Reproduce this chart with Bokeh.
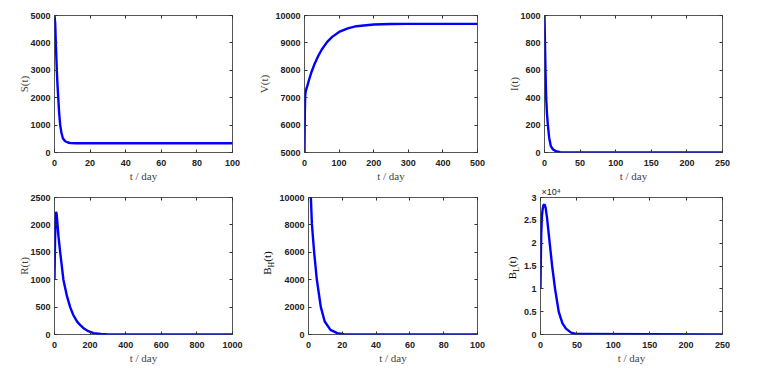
from bokeh.plotting import figure
from bokeh.layouts import column, row
from bokeh.models import Range1d, LinearAxis, FixedTicker, CustomJSTickFormatter, Title, Div
from bokeh.embed import file_html
from bokeh.resources import INLINE

# ---- data ----
S_t = [0, 0.4, 0.8, 1.3, 1.7, 2.1, 2.6, 3.2, 3.9, 4.7, 6, 7.5, 9, 12, 100]
S_v = [5000, 4700, 3900, 3000, 2450, 2000, 1450, 1000, 720, 520, 410, 365, 348, 340, 340]

V_t = [0, 1, 2, 3, 5, 8, 12, 20, 30, 40, 50, 65, 80, 100, 125, 150, 200, 250, 300, 500]
V_v = [5000, 6500, 7050, 7200, 7300, 7420, 7600, 7930, 8260, 8530, 8760, 9030, 9220, 9400,
       9530, 9610, 9670, 9690, 9695, 9695]

I_t = [0, 0.7, 1.4, 2.3, 3.5, 4.7, 6.5, 8.9, 12, 16, 22, 30, 250]
I_v = [1000, 790, 600, 403, 280, 203, 110, 46, 22, 10, 3, 1, 0]

R_t = [0, 3, 6, 9, 12, 16, 22, 32, 50, 70, 88, 105, 126, 145, 163, 190, 220, 260, 300, 1000]
R_v = [1000, 1700, 2100, 2240, 2200, 2050, 1800, 1500, 1000, 700, 500, 360, 240, 170, 115,
       60, 25, 8, 3, 0]

BH_t = [0, 1.4, 2.0, 3.3, 4.9, 7.3, 9.6, 13, 17, 21, 30, 100]
BH_v = [15000, 10000, 8090, 6060, 4030, 2000, 950, 340, 100, 30, 5, 0]

BL_t = [0, 0.5, 1, 2, 3, 4, 5.5, 7, 9, 12, 16, 20, 25, 30, 35, 42, 50, 250]
BL_v = [1.0, 1.7, 2.2, 2.6, 2.75, 2.83, 2.85, 2.78, 2.55, 2.1, 1.5, 1.0, 0.5, 0.25, 0.13,
        0.04, 0.01, 0]  # in units of 10^4

X_LABEL = "t / day"
BH_LABEL = ("B", "H", "(t)")
BL_LABEL = ("B", "L", "(t)")
BL_SCALE = "×10⁴"

S_xticks = [0, 20, 40, 60, 80, 100]
S_yticks = [0, 1000, 2000, 3000, 4000, 5000]
V_xticks = [0, 100, 200, 300, 400, 500]
V_yticks = [5000, 6000, 7000, 8000, 9000, 10000]
I_xticks = [0, 50, 100, 150, 200, 250]
I_yticks = [0, 200, 400, 600, 800, 1000]
R_xticks = [0, 200, 400, 600, 800, 1000]
R_yticks = [0, 500, 1000, 1500, 2000, 2500]
BH_xticks = [0, 20, 40, 60, 80, 100]
BH_yticks = [0, 2000, 4000, 6000, 8000, 10000]
BL_xticks = [0, 50, 100, 150, 200, 250]
BL_yticks = [0, 0.5, 1, 1.5, 2, 2.5, 3]

TICK_FONT = "Liberation Sans"
LABEL_FONT = "Liberation Serif"


def style_axis(ax, ticks, hidden=False):
    ax.ticker = FixedTicker(ticks=ticks)
    ax.major_tick_in = 3
    ax.major_tick_out = 0
    ax.minor_tick_line_color = None
    ax.major_tick_line_color = "#333333"
    ax.axis_line_color = None
    if hidden:
        ax.formatter = CustomJSTickFormatter(code="return '';")
        ax.major_label_text_color = None
        ax.major_label_standoff = 0
    else:
        ax.formatter = CustomJSTickFormatter(code="return tick.toString();")
        ax.major_label_text_font = TICK_FONT
        ax.major_label_text_font_style = "bold"
        ax.major_label_text_font_size = "9px"
        ax.major_label_text_color = "#222222"


def make(t, v, xr, yr, xticks, yticks, w, h, bl, br, bt, bb, ylabel, ystand):
    p = figure(width=w, height=h, output_backend="svg", toolbar_location=None,
               x_range=Range1d(*xr), y_range=Range1d(*yr),
               min_border_left=bl, min_border_right=br, min_border_top=bt, min_border_bottom=bb)
    p.xgrid.grid_line_color = None
    p.ygrid.grid_line_color = None
    p.outline_line_color = "#555555"
    p.outline_line_width = 1
    p.line(t, v, line_color="#0000ff", line_width=2.4)
    style_axis(p.xaxis[0], xticks)
    style_axis(p.yaxis[0], yticks)
    p.xaxis[0].major_label_standoff = 7
    p.yaxis[0].major_label_standoff = 4
    p.xaxis[0].axis_label = X_LABEL
    p.xaxis[0].axis_label_text_font = LABEL_FONT
    p.xaxis[0].axis_label_text_font_style = "normal"
    p.xaxis[0].axis_label_text_font_size = "11px"
    p.xaxis[0].axis_label_standoff = 1
    if ylabel:
        p.yaxis[0].axis_label = ylabel
        p.yaxis[0].axis_label_text_font = LABEL_FONT
        p.yaxis[0].axis_label_text_font_style = "normal"
        p.yaxis[0].axis_label_text_font_size = "11px"
        p.yaxis[0].axis_label_standoff = ystand
    ra = LinearAxis()
    style_axis(ra, yticks, hidden=True)
    p.add_layout(ra, "right")
    ta = LinearAxis()
    style_axis(ta, xticks, hidden=True)
    p.add_layout(ta, "above")
    return p


def label_div(parts, width, ml, mt):
    main, sub, rest = parts
    html = (
        f'<div style="width:40px;height:12px;line-height:12px;text-align:center;'
        f'margin-left:{ml}px;margin-top:{mt}px;transform:rotate(-90deg);'
        f"font-family:'Liberation Serif';font-size:11px;white-space:nowrap;color:black;\">"
        f'{main}<sub style="font-size:8px;line-height:0">{sub}</sub>{rest}</div>'
    )
    return Div(text=html, width=width, height=184, margin=0)


p1 = make(S_t, S_v, (0, 100), (0, 5000), S_xticks, S_yticks, 250, 184, 54, 18, 15, 31, "S(t)", -3)
p2 = make(V_t, V_v, (0, 500), (5000, 10000), V_xticks, V_yticks, 255, 184, 54, 28, 15, 31, "V(t)", 2)
p3 = make(I_t, I_v, (0, 250), (0, 1000), I_xticks, I_yticks, 258, 184, 39, 41, 15, 31, "I(t)", -3)
p4 = make(R_t, R_v, (0, 1000), (0, 2500), R_xticks, R_yticks, 250, 184, 54, 18, 13, 34, "R(t)", -3)
p5 = make(BH_t, BH_v, (0, 100), (0, 10000), BH_xticks, BH_yticks, 229, 184, 32, 28, 13, 34, None, 0)
p6 = make(BL_t, BL_v, (0, 250), (0, 3), BL_xticks, BL_yticks, 243, 184, 20, 41, 13, 34, None, 0)

p6.add_layout(Title(text=BL_SCALE, align="left", text_font=TICK_FONT, text_font_size="9px",
                    text_font_style="normal", text_color="#222222", standoff=1, offset=1), "above")

d5 = label_div(BH_LABEL, 26, -3, 73)
d6 = label_div(BL_LABEL, 15, -13, 78)

layout = column(row(p1, p2, p3), row(p4, row(d5, p5), row(d6, p6)))

open("out.html", "w").write(file_html(layout, INLINE))
